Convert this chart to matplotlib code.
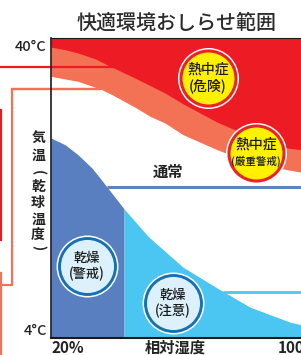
#!/usr/bin/env python3

import numpy as np
import matplotlib
matplotlib.use("Agg")
import matplotlib.pyplot as plt

plt.rcParams["font.family"] = ["Noto Sans CJK JP", "DejaVu Sans"]

# relative humidity (%) / air temperature (degC) of the zone boundaries
danger_hum = [20.0, 24.9, 29.4, 35.4, 41.3, 49.3, 59.8, 66.1, 78.0, 89.5, 102.4, 107.3]
danger_temp = [38.9, 38.6, 38.2, 37.5, 36.5, 35.2, 33.4, 32.1, 29.9, 28.2, 26.8, 26.6]

caution_hum = [20.0, 29.4, 37.1, 41.3, 49.3, 54.6, 59.8, 66.1, 78.0, 89.5, 102.4, 107.3]
caution_temp = [35.4, 34.8, 33.9, 33.2, 31.7, 30.6, 29.8, 28.4, 26.6, 25.1, 24.2, 23.9]

dry_hum = [20.0, 24.9, 29.4, 34.3, 37.1, 39.6, 45.5, 53.9, 66.1, 78.0, 89.5, 103.5, 107.3]
dry_temp = [28.0, 27.2, 26.0, 24.4, 23.2, 22.1, 19.5, 16.2, 12.5, 10.0, 7.7, 5.9, 5.6]
dry_warn_limit = 45.5

normal_temp = 22.1
normal_start = 39.6
dry_line_temp = 9.5
dry_line_start = 80.1

x_min, x_max = 20, 107.3
t_min, t_max = 4, 40

# badges: (humidity, temp, line1, line2, size of line2)
heat_badges = [(74.8, 35.2, "熱中症", "(危険)", 10),
               (91.6, 26.2, "熱中症", "(厳重警戒)", 7.6)]
dry_badges = [(32.6, 12.6, "乾燥", "(警戒)"),
              (62.6, 8.2, "乾燥", "(注意)")]

ylabel_chars = ["気", "温", "(", "乾", "球", "温", "度", ")"]
ylabel_temps = [28.0, 25.8, 23.8, 22.1, 20.2, 18.2, 16.4, 14.9]

# connector lines on the left margin
red_lines = [([2.2, 41.3], [36.5, 36.5]), ([2.5, 2.5], [31.4, 15.8])]
salmon_lines = [([6.4, 37.1, 6.4, 6.4, 2.2], [33.9, 33.9, 33.9, 10.4, 10.4]),
                ([2.5, 2.5], [11.8, 1.9])]

RED = "#ed1c24"
SALMON = "#f37256"
DARK_BLUE = "#5a7fc1"
LIGHT_BLUE = "#4bc6f2"


def main():
    fig = plt.figure(figsize=(3.01, 3.55), dpi=100)
    ax = fig.add_axes([51 / 301, 17 / 355, 250 / 301, 300 / 355])
    ax.set_xlim(x_min, x_max)
    ax.set_ylim(t_min, t_max)

    ax.fill_between(caution_hum, caution_temp, t_max, color=SALMON, lw=0, zorder=1)
    ax.fill_between(danger_hum, danger_temp, t_max, color=RED, lw=0, zorder=2)

    dh = np.array(dry_hum)
    ax.fill_between(dh, dry_temp, t_min, where=dh <= dry_warn_limit,
                    color=DARK_BLUE, lw=0, zorder=1)
    ax.fill_between(dh, dry_temp, t_min, where=dh >= dry_warn_limit,
                    color=LIGHT_BLUE, lw=0, zorder=1)

    ax.hlines(normal_temp, normal_start, x_max, color="#5b84c4", lw=2.2, zorder=3)
    ax.hlines(dry_line_temp, dry_line_start, x_max, color=LIGHT_BLUE, lw=2, zorder=3)

    for xs, ys in red_lines:
        ax.plot(xs, ys, color=RED, lw=1.6, clip_on=False, zorder=3)
    for xs, ys in salmon_lines:
        ax.plot(xs, ys, color=SALMON, lw=1.6, clip_on=False, zorder=3)

    for h, t, l1, l2, fs2 in heat_badges:
        ax.scatter([h], [t], s=1930, c="white", lw=0, zorder=5)
        ax.scatter([h], [t], s=1750, c="#e8232a", lw=0, zorder=6)
        ax.scatter([h], [t], s=1400, c="#fff100", lw=0, zorder=7)
        ax.text(h, t + 1.0, l1, ha="center", va="center", fontsize=10,
                fontweight="medium", color="#1a1a1a", zorder=8)
        ax.text(h, t - 0.95, l2, ha="center", va="center", fontsize=fs2,
                fontweight="medium", color="#1a1a1a", zorder=8)

    for h, t, l1, l2 in dry_badges:
        ax.scatter([h], [t], s=1990, c="white", lw=0, zorder=5)
        ax.scatter([h], [t], s=1800, c="#1670b6", lw=0, zorder=6)
        ax.scatter([h], [t], s=1460, c="#dcf1fb", lw=0, zorder=7)
        ax.text(h, t + 1.0, l1, ha="center", va="center", fontsize=9.5,
                fontweight="medium", color="#1a1a1a", zorder=8)
        ax.text(h, t - 0.95, l2, ha="center", va="center", fontsize=9.5,
                fontweight="medium", color="#1a1a1a", zorder=8)

    ax.text(60.9, 23.9, "通常", ha="center", va="center", fontsize=11,
            fontweight="bold", color="#222222")

    for ch, t in zip(ylabel_chars, ylabel_temps):
        rot = -90 if ch in "()" else 0
        ax.text(15.5, t, ch, ha="center", va="center", fontsize=10,
                fontweight="bold", rotation=rot, color="#222222", clip_on=False)

    ax.text(18.6, 38.9, "40°C", ha="right", va="center", fontsize=10.5,
            fontweight="medium", color="#222222", clip_on=False)
    ax.text(18.6, 4.8, "4°C", ha="right", va="center", fontsize=10.5,
            fontweight="medium", color="#222222", clip_on=False)
    ax.text(20, 2.8, "20%", ha="left", va="center", fontsize=11,
            fontweight="bold", color="#222222", clip_on=False)
    ax.text(99.3, 2.8, "100%", ha="left", va="center", fontsize=11,
            fontweight="bold", color="#222222", clip_on=False)
    ax.text(63.3, 2.8, "相対湿度", ha="center", va="center", fontsize=11,
            fontweight="bold", color="#222222", clip_on=False)

    fig.text(177 / 301, 1 - 23 / 355, "快適環境おしらせ範囲", ha="center",
             va="center", fontsize=14.4, fontweight="medium", color="#2b2b2b")

    ax.set_xticks([])
    ax.set_yticks([])
    ax.spines["right"].set_visible(False)
    for side in ["left", "bottom", "top"]:
        ax.spines[side].set_color("#1a1a1a")
    ax.spines["left"].set_linewidth(1.2)
    ax.spines["bottom"].set_linewidth(1.5)
    ax.spines["top"].set_linewidth(0.8)
    for sp in ax.spines.values():
        sp.set_zorder(9)

    fig.savefig("out.png", dpi=100)


if __name__ == "__main__":
    main()
